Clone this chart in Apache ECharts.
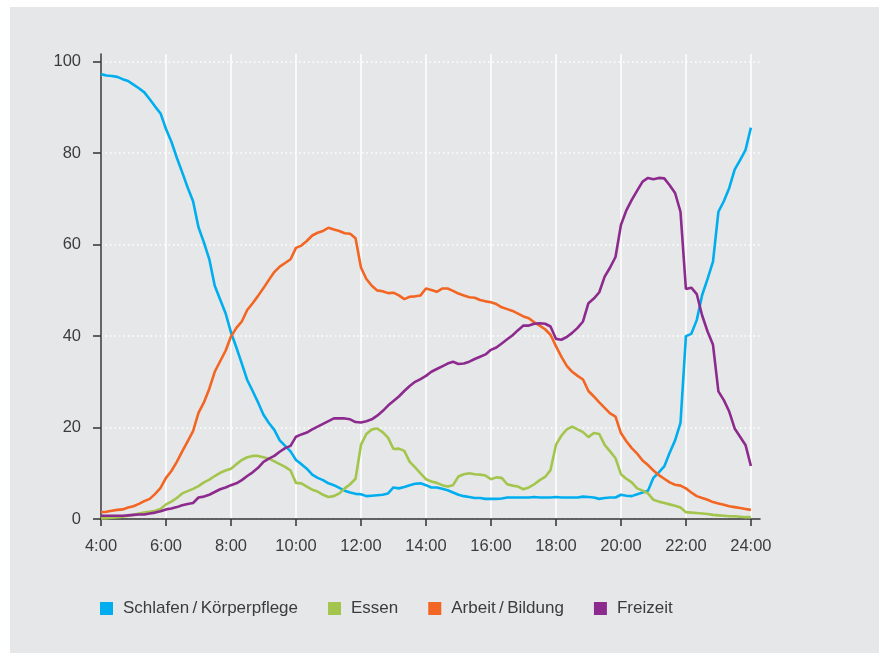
<!DOCTYPE html>
<html>
<head>
<meta charset="utf-8">
<script src="https://cdn.jsdelivr.net/npm/echarts@6/dist/echarts.min.js"></script>
<style>
  html, body { margin: 0; padding: 0; background: #fff; }
  #chart { width: 879px; height: 653px; }
</style>
</head>
<body>
<div id="chart"></div>
<script>
// Anteil der Personen je Tätigkeit (%), im 10-Minuten-Takt von 4:00 bis 24:00
var seriesNames = ['Schlafen\u2009/\u2009Körperpflege', 'Essen', 'Arbeit\u2009/\u2009Bildung', 'Freizeit']
var xTicks = [4, 6, 8, 10, 12, 14, 16, 18, 20, 22, 24]
var yTicks = [0, 20, 40, 60, 80, 100]
var startHour = 4
var stepMinutes = 10

var schlafen = [
  97.3, 97.0, 96.9, 96.7, 96.2, 95.8, 95.0, 94.2, 93.3, 91.8, 90.2, 88.7,
  85.3, 82.5, 79.0, 75.8, 72.5, 69.5, 63.8, 60.5, 56.8, 51.0, 48.0, 45.0,
  40.8, 37.5, 34.0, 30.4, 28.0, 25.5, 22.8, 21.0, 19.5, 17.2, 16.0, 14.8,
  12.9, 12.0, 11.0, 9.7, 9.0, 8.5, 7.8, 7.4, 6.8, 6.2, 5.8, 5.5,
  5.4, 5.0, 5.1, 5.2, 5.3, 5.6, 6.9, 6.7, 7.0, 7.4, 7.7, 7.8,
  7.4, 6.9, 6.9, 6.6, 6.3, 5.8, 5.3, 5.0, 4.8, 4.6, 4.6, 4.4,
  4.4, 4.4, 4.5, 4.7, 4.7, 4.7, 4.7, 4.7, 4.8, 4.7, 4.7, 4.7,
  4.8, 4.7, 4.7, 4.7, 4.7, 4.9, 4.8, 4.7, 4.4, 4.6, 4.7, 4.7,
  5.3, 5.1, 5.0, 5.4, 5.8, 6.2, 9.0, 10.2, 11.5, 14.5, 17.2, 21.0,
  40.0, 40.5, 43.5, 49.0, 52.5, 56.3, 67.2, 69.5, 72.4, 76.4, 78.5, 80.7,
  85.6
]

var essen = [
  0.1, 0.2, 0.3, 0.4, 0.5, 0.7, 0.9, 1.2, 1.4, 1.6, 1.8, 2.2,
  3.2, 3.8, 4.6, 5.6, 6.1, 6.6, 7.2, 8.0, 8.6, 9.4, 10.1, 10.6,
  11.0, 12.0, 12.9, 13.5, 13.8, 13.8, 13.5, 13.2, 12.6, 12.0, 11.4, 10.6,
  7.9, 7.8, 7.1, 6.4, 6.0, 5.3, 4.8, 5.0, 5.6, 6.7, 7.6, 8.8,
  16.2, 18.6, 19.6, 19.8, 19.0, 17.8, 15.3, 15.4, 14.9, 12.5, 11.3, 10.0,
  8.7, 8.2, 7.9, 7.4, 7.1, 7.4, 9.3, 9.8, 10.0, 9.8, 9.7, 9.5,
  8.7, 9.1, 9.0, 7.6, 7.3, 7.1, 6.5, 6.9, 7.6, 8.5, 9.2, 10.7,
  16.2, 18.2, 19.6, 20.2, 19.6, 19.0, 17.9, 18.8, 18.6, 16.2, 14.8, 13.3,
  9.8, 8.8, 8.0, 6.7, 6.2, 5.6, 4.2, 3.8, 3.5, 3.2, 2.9, 2.5,
  1.5, 1.4, 1.3, 1.2, 1.1, 0.9, 0.8, 0.7, 0.6, 0.6, 0.5, 0.4,
  0.4
]

var arbeit = [
  1.5, 1.6, 1.8, 2.0, 2.1, 2.5, 2.8, 3.3, 3.9, 4.4, 5.5, 6.8,
  9.0, 10.5, 12.5, 14.8, 17.0, 19.2, 23.2, 25.5, 28.5, 32.2, 34.5, 36.8,
  39.9, 41.8, 43.2, 45.7, 47.2, 48.8, 50.5, 52.3, 54.0, 55.2, 56.0, 56.8,
  59.3, 59.8, 60.8, 62.0, 62.6, 63.0, 63.7, 63.3, 63.0, 62.5, 62.4, 61.4,
  55.0, 52.5, 51.0, 50.0, 49.8, 49.4, 49.5, 48.9, 48.1, 48.6, 48.7, 48.9,
  50.4, 50.1, 49.7, 50.4, 50.4, 49.9, 49.3, 48.9, 48.5, 48.4, 47.9, 47.6,
  47.4, 47.0, 46.3, 45.9, 45.5, 44.9, 44.3, 43.9, 43.0, 42.3, 41.5, 40.3,
  37.8, 35.5, 33.5, 32.2, 31.3, 30.5, 28.0, 26.8, 25.5, 24.3, 23.1, 22.4,
  18.8, 17.0, 15.5, 14.3, 12.8, 11.8, 10.6, 9.6, 8.8, 8.0, 7.5, 7.3,
  6.7, 5.8, 5.0, 4.6, 4.2, 3.7, 3.4, 3.1, 2.8, 2.6, 2.4, 2.2,
  2.0
]

var freizeit = [
  0.7, 0.7, 0.7, 0.7, 0.7, 0.8, 0.9, 1.0, 1.0, 1.2, 1.4, 1.7,
  2.1, 2.3, 2.6, 3.0, 3.3, 3.5, 4.7, 4.9, 5.3, 5.9, 6.5, 6.9,
  7.4, 7.8, 8.5, 9.4, 10.2, 11.2, 12.5, 13.2, 13.8, 14.7, 15.5, 16.0,
  18.0, 18.5, 18.9, 19.6, 20.2, 20.8, 21.4, 22.0, 22.0, 22.0, 21.8, 21.2,
  21.1, 21.4, 21.8, 22.6, 23.6, 24.8, 25.8, 26.8, 28.0, 29.1, 30.0, 30.6,
  31.3, 32.2, 32.8, 33.4, 34.0, 34.4, 33.9, 34.0, 34.4, 35.0, 35.5, 36.0,
  37.0, 37.5, 38.4, 39.3, 40.2, 41.3, 42.3, 42.3, 42.7, 42.8, 42.7, 42.1,
  39.4, 39.2, 39.8, 40.7, 41.8, 43.2, 47.2, 48.2, 49.6, 53.0, 55.0, 57.3,
  64.3, 67.5, 69.8, 71.8, 73.8, 74.6, 74.3, 74.6, 74.5, 73.0, 71.3, 67.2,
  50.3, 50.6, 49.2, 44.5, 41.0, 38.1, 27.9, 26.0, 23.5, 19.8, 18.0, 16.2,
  11.6
]

var colors = ['#00aeef', '#a3c54e', '#f26522', '#8c2a8e']
var textColor = '#3c3c3c'
var fontFamily = '"Liberation Sans", Arial, sans-serif'

function toPairs(values) {
  return values.map(function (v, i) {
    return [startHour + i * stepMinutes / 60, v]
  })
}

var chart = echarts.init(document.getElementById('chart'))
chart.setOption({
  backgroundColor: '#ffffff',
  animation: false,
  color: colors,
  textStyle: { fontFamily: fontFamily },
  graphic: [{
    type: 'rect',
    z: -10,
    shape: { x: 10, y: 7, width: 869, height: 646 },
    style: { fill: '#e6e7e8' }
  }],
  legend: {
    left: 95,
    top: 595,
    icon: 'rect',
    itemWidth: 13,
    itemHeight: 13,
    itemGap: 30,
    data: seriesNames,
    textStyle: { fontSize: 17, color: textColor, padding: [0, 0, 0, 5] }
  },
  grid: {
    left: 101,
    top: 54,
    width: 659,
    height: 465
  },
  xAxis: {
    type: 'value',
    min: 4,
    max: 24.28,
    axisLine: { lineStyle: { color: '#333', width: 1.5 } },
    axisTick: {
      customValues: xTicks,
      length: 7,
      lineStyle: { color: '#333', width: 1.5 }
    },
    axisLabel: {
      customValues: xTicks,
      margin: 19,
      fontSize: 16.5,
      color: textColor,
      formatter: function (v) { return v + ':00' }
    },
    splitLine: { show: true, lineStyle: { color: '#ffffff', width: 1.5, type: 'solid' } }
  },
  yAxis: {
    type: 'value',
    min: 0,
    max: 101.7,
    axisLine: { show: true, lineStyle: { color: '#333', width: 1.5 } },
    axisTick: {
      show: true,
      customValues: yTicks,
      length: 8,
      lineStyle: { color: '#333', width: 1.5 }
    },
    axisLabel: {
      customValues: yTicks,
      margin: 20,
      fontSize: 16.5,
      color: textColor
    },
    splitLine: { show: true, lineStyle: { color: '#ffffff', width: 1.5, type: [1.5, 3] } }
  },
  series: [
    { name: seriesNames[0], type: 'line', data: toPairs(schlafen) },
    { name: seriesNames[1], type: 'line', data: toPairs(essen) },
    { name: seriesNames[2], type: 'line', data: toPairs(arbeit) },
    { name: seriesNames[3], type: 'line', data: toPairs(freizeit) }
  ].map(function (s) {
    s.showSymbol = false
    s.symbol = 'none'
    s.lineStyle = { width: 2.6 }
    return s
  })
})
</script>
</body>
</html>
